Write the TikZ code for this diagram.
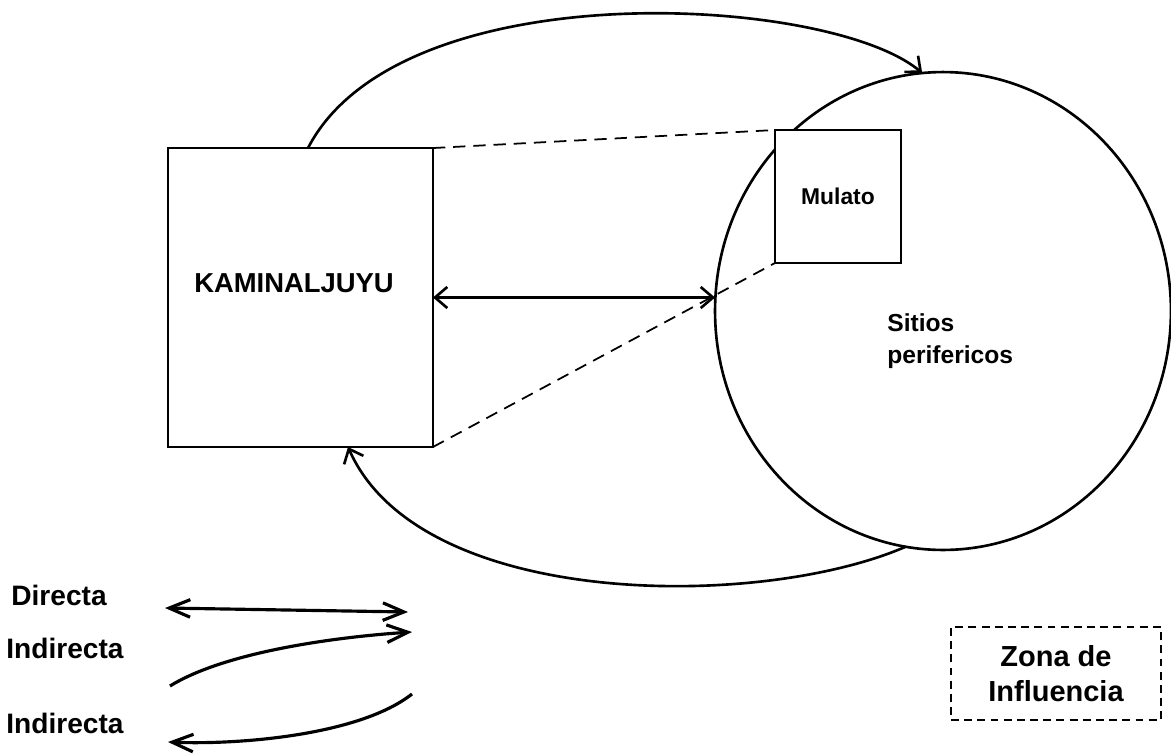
\documentclass[tikz,border=0pt]{standalone}
\usepackage{fontspec}
\setmainfont{Liberation Sans}
\usetikzlibrary{positioning,shapes.geometric,arrows.meta}

\begin{document}
\begin{tikzpicture}[x=0.02cm,y=-0.02cm,
          every node/.style={font=\bfseries},
          box/.style={draw,line width=1.5pt,inner sep=0pt,outer sep=0pt},
          link/.style={line width=1.5pt},
          tie/.style={line width=1pt,dash pattern=on 7pt off 4.5pt},
          zone/.style={draw,line width=1.2pt,dash pattern=on 4.5pt off 3pt,inner sep=0pt,align=center,
            font=\bfseries\fontsize{16.5}{20}\selectfont},
          legend/.style={anchor=west,inner sep=0pt,font=\bfseries\fontsize{16}{19}\selectfont},
          tip/.style={-{Straight Barb[length=7pt,width=12pt]}},
          bothtips/.style={{Straight Barb[length=7pt,width=12pt]}-{Straight Barb[length=7pt,width=12pt]}},
          ltip/.style={-{Straight Barb[length=12pt,width=10pt]}},
          lboth/.style={{Straight Barb[length=12pt,width=10pt]}-{Straight Barb[length=12pt,width=10pt]}},
        ]
        \useasboundingbox (0,0) rectangle (1171,755);
        % sites
        \node[box,ellipse,minimum width=9.12cm,minimum height=9.56cm] (sitios) at (943,311) {};
        \node[box,fill=white,minimum width=2.52cm,minimum height=2.66cm,
          font=\bfseries\fontsize{13}{15}\selectfont] (mulato) at (838,196.5) {Mulato};
        \node[box,minimum width=5.3cm,minimum height=5.98cm] (kam) at (300.5,297.5) {};
        \node[font=\bfseries\fontsize{15.6}{18}\selectfont] (kamlbl) at (294,283) {KAMINALJUYU};
        \node[anchor=west,align=left,inner sep=0pt,font=\bfseries\fontsize{14}{18}\selectfont] (sitlbl) at (887,341) {Sitios\\perifericos};
        % links
        \draw[tie] (kam.north east) -- (mulato.north west);
        \draw[tie] (kam.south east) -- (mulato.south west);
        \draw[link,bothtips] (kam.east) -- (kam.east -| sitios.west);
        \draw[link,tip] ([xshift=0.15cm]kam.north) .. controls (400,-30) and (830,-5) .. (sitios.95);
        \draw[link,tip] (sitios.261) .. controls (760,610) and (420,610) .. ([xshift=0.95cm]kam.south);
        % legend
        \node[legend] (ldir) at (11,595) {Directa};
        \node[legend] (lind) at (6,648) {Indirecta};
        \node[legend] (lret) at (6,723) {Indirecta};
        \coordinate (d1) at (165,608);
        \coordinate (d2) at (408,612);
        \coordinate (i1) at (170,686);
        \coordinate (i2) at (412,632);
        \coordinate (j1) at (412,694);
        \coordinate (j2) at (168,742);
        \draw[line width=1.8pt,lboth] (d1) -- (d2);
        \draw[line width=1.8pt,ltip] (i1) .. controls (225,652) and (335,637) .. (i2);
        \draw[line width=1.8pt,ltip] (j1) .. controls (360,735) and (240,745) .. (j2);
        \node[zone,minimum width=4.2cm,minimum height=1.86cm] (zona) at (1056,673.5) {Zona de\\Influencia};
      \end{tikzpicture}
\end{document}
